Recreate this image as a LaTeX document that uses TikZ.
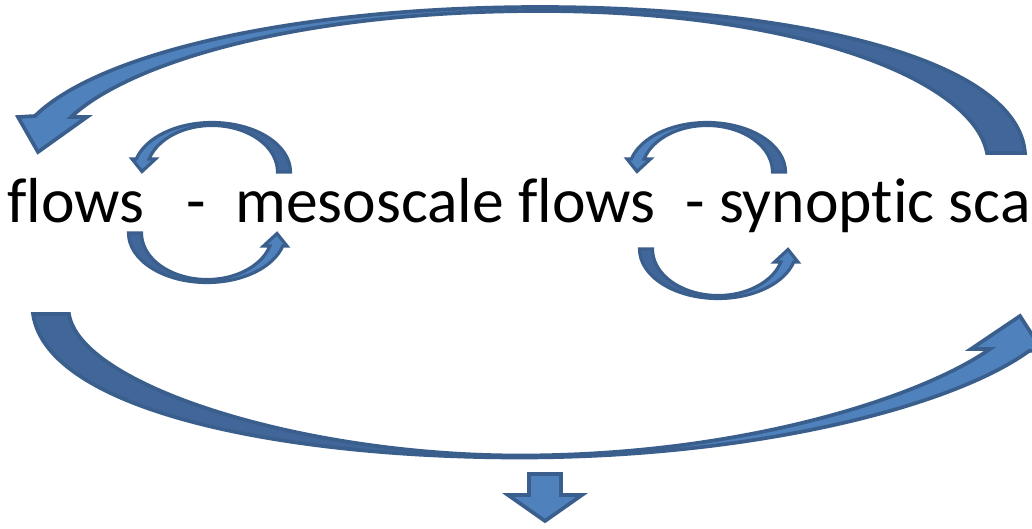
\documentclass[tikz,border=0pt]{standalone}
\usepackage{fontspec}
\setmainfont{Carlito}[Ligatures={NoCommon}]
\definecolor{arrowline}{HTML}{3A5F8D}
\definecolor{arrowfill}{HTML}{4F81BD}
\definecolor{arrowback}{HTML}{41679A}
\newcommand\smallarrowpath{(-78.5,0) arc[start angle=180,end angle=15.2,x radius=78.5,y radius=49.5] -- (80,13) -- (70,0.5) -- (56.5,13) -- (62.9,13) arc[start angle=16.2,end angle=180,x radius=65.5,y radius=46.5] -- cycle}
\newcommand\smallbackpath{(-78.5,0) arc[start angle=180,end angle=90,x radius=78.5,y radius=49.5] -- (0,46.5) arc[start angle=90,end angle=180,x radius=65.5,y radius=46.5] -- cycle}
\newcommand\toparrowpath{(987,153) -- (1025,153) .. controls (1018,60) and (800,7) .. (540,7) .. controls (300,7) and (100,52) .. (35,116) -- (18,117) -- (38,152) -- (87,117) -- (71,117) .. controls (130,62) and (300,11) .. (540,11) .. controls (800,11) and (973,80) .. (987,153) -- cycle}
\newcommand\topbackpath{(987,153) -- (1025,153) .. controls (1018,60) and (800,7) .. (540,7) -- (540,11) .. controls (800,11) and (973,80) .. (987,153) -- cycle}
\newcommand\botarrowpath{(33,314) .. controls (47,410) and (280,457.5) .. (520,457.5) .. controls (750,457.5) and (950,408) .. (1029,351) -- (1042,350) -- (1020,316) -- (971,349) -- (990,349) .. controls (920,398) and (740,455.5) .. (520,455.5) .. controls (300,455.5) and (80,385) .. (69,314) -- cycle}
\newcommand\botbackpath{(33,314) .. controls (47,410) and (280,457.5) .. (520,457.5) -- (520,455.5) .. controls (300,455.5) and (80,385) .. (69,314) -- cycle}
\begin{document}
\begin{tikzpicture}[x=0.02cm,y=-0.02cm,
  bigline/.style={draw=arrowline,line width=2.1pt,line join=miter,miter limit=10},
  smallline/.style={draw=arrowline,line width=1.8pt,line join=miter,miter limit=10},
  frontfill/.style={fill=arrowfill},
  backfill/.style={fill=arrowback},
  wordlabel/.style={font=\fontsize{36.2}{40}\selectfont,inner sep=0pt,anchor=base west,text=black},
  smallarrow/.pic={
    \path[frontfill] \smallarrowpath;
    \path[backfill] \smallbackpath;
    \path[smallline] \smallarrowpath;
  }]
\useasboundingbox (0,0) rectangle (1032,528);
\clip (0,0) rectangle (1032,528);
\fill[white] (0,0) rectangle (1032,528);
% big top arrow
\path[frontfill] \toparrowpath;
\path[backfill] \topbackpath;
\path[bigline] \toparrowpath;
% big bottom arrow
\path[frontfill] \botarrowpath;
\path[backfill] \botbackpath;
\path[bigline] \botarrowpath;
% down arrow
\path[frontfill,bigline] (529,474) -- (561,474) -- (561,495) -- (582,495) -- (545,521) -- (508,495) -- (529,495) -- cycle;
% small arrows
\pic[rotate=180] at (212,172) {smallarrow};
\pic[rotate=180] at (707,172) {smallarrow};
\pic at (207,233) {smallarrow};
\pic at (718,249) {smallarrow};
% text
\node[wordlabel] (w1) at (7,222) {flows};
\node[wordlabel] (w2) at (186,222) {-};
\node[wordlabel] (w3) at (235,222) {mesoscale flows};
\node[wordlabel] (w4) at (685,222) {- synoptic sca};
\end{tikzpicture}
\end{document}
